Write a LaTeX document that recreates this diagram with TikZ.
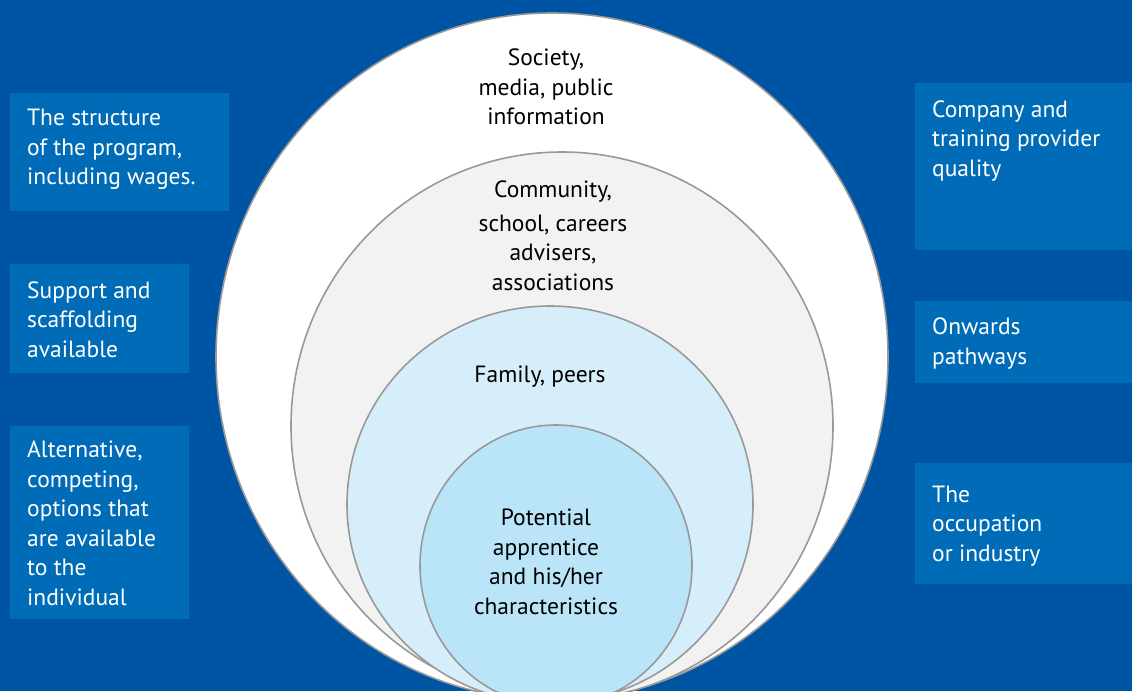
\documentclass[tikz,border=0pt]{standalone}
\usepackage{fontspec}
\setmainfont{PT Sans}
\usetikzlibrary{positioning}

\definecolor{bgblue}{RGB}{0,84,164}
\definecolor{boxblue}{RGB}{0,108,183}
\definecolor{ringgrey}{RGB}{153,153,153}
\definecolor{ringgreyfill}{RGB}{242,242,242}
\definecolor{ringsky}{RGB}{213,238,250}
\definecolor{ringcore}{RGB}{186,229,249}

\begin{document}
\begin{tikzpicture}[x=1pt, y=-1pt,
  ring/.style={draw=ringgrey, line width=1.6pt},
  ringtext/.style={align=center, text=black, inner sep=0pt,
    font=\fontsize{23.5}{29.5}\selectfont},
  boxtext/.style={anchor=north west, align=left, text=white, inner sep=0pt,
    font=\fontsize{23.5}{29.5}\selectfont}]
  \useasboundingbox (0,0) rectangle (1132,691);
  \clip (0,0) rectangle (1132,691);
  \fill[bgblue] (0,0) rectangle (1132,691);

  % --- Nested rings, outside in (all meet near the bottom edge) ---
  \draw[ring, fill=white]        (552,356.5) ellipse[x radius=336, y radius=343.5];
  \draw[ring, fill=ringgreyfill] (562,426)   ellipse[x radius=271, y radius=274];
  \draw[ring, fill=ringsky]      (550,504.5) ellipse[x radius=203, y radius=198.5];
  \draw[ring, fill=ringcore]     (556,565.5) ellipse[x radius=136, y radius=140.5];

  \node[ringtext] (society)    at (546,87)  {Society,\\media, public\\information};
  \node[ringtext] (community)  at (553,236) {Community,\\[4pt]school, careers\\advisers,\\associations};
  \node[ringtext] (family)     at (540,377) {Family, peers};
  \node[ringtext] (apprentice) at (546,562) {Potential\\apprentice\\and his/her\\characteristics};

  % --- Left panels ---
  \fill[boxblue] (10,93)  rectangle (229,211);
  \fill[boxblue] (10,264) rectangle (189,373);
  \fill[boxblue] (10,426) rectangle (189,619);
  \node[boxtext] (structure)   at (27,109)   {The structure\\of the program,\\including wages.};
  \node[boxtext] (support)     at (27,281.5) {Support and\\scaffolding\\available};
  \node[boxtext] (alternative) at (27,441)   {Alternative,\\competing,\\options that\\are available\\to the\\individual};

  % --- Right panels ---
  \fill[boxblue] (915,83)  rectangle (1132,250);
  \fill[boxblue] (915,301) rectangle (1132,383);
  \fill[boxblue] (915,463) rectangle (1132,584);
  \node[boxtext] (quality)    at (932,100.5) {Company and\\training provider\\quality};
  \node[boxtext] (pathways)   at (932,318)   {Onwards\\pathways};
  \node[boxtext] (occupation) at (932,485.5) {The\\occupation\\or industry};
\end{tikzpicture}
\end{document}
